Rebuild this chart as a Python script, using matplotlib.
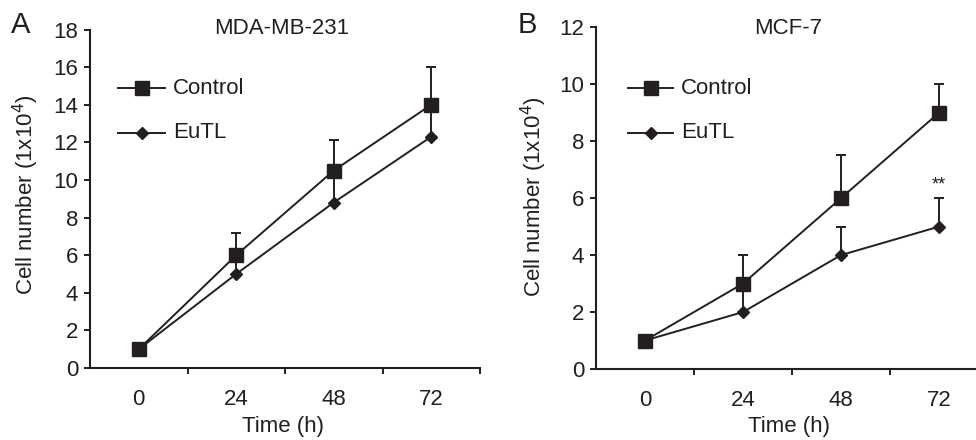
import matplotlib
matplotlib.use("Agg")
import matplotlib.pyplot as plt
import numpy as np

plt.rcParams['font.family'] = ['Liberation Sans', 'DejaVu Sans']

time_labels = ['0', '24', '48', '72']

# Panel A: MDA-MB-231
a_control = [1, 6, 10.5, 14]
a_control_err = [0, 1.2, 1.6, 2.0]
a_eutl = [1, 5, 8.8, 12.3]
a_eutl_err = [0, 1.0, 1.6, 1.6]

# Panel B: MCF-7
b_control = [1, 3, 6, 9]
b_control_err = [0, 1.0, 1.5, 1.0]
b_eutl = [1, 2, 4, 5]
b_eutl_err = [0, 1.0, 1.0, 1.0]

W, H = 976, 440
fig = plt.figure(figsize=(W / 100, H / 100), dpi=100)

col = '#231f20'
FS = 16
LW = 1.4

def make_panel(rect, ctrl, ctrl_err, eu, eu_err, ymax):
    ax = fig.add_axes(rect)
    x = np.arange(len(time_labels))
    ax.errorbar(x, eu, yerr=[np.zeros(len(eu)), eu_err], color=col, lw=LW,
                marker='D', markersize=6.4, capsize=3.6, capthick=LW, elinewidth=LW,
                label='EuTL', zorder=3)
    ax.errorbar(x, ctrl, yerr=[np.zeros(len(ctrl)), ctrl_err], color=col, lw=LW,
                marker='s', markersize=10.5, capsize=3.6, capthick=LW, elinewidth=LW,
                label='Control', zorder=4)
    ax.set_xlim(-0.5, 3.5)
    ax.set_ylim(0, ymax)
    ax.set_yticks(np.arange(0, ymax + 1, 2))
    ax.set_xticks(x)
    ax.set_xticklabels(time_labels)
    ax.set_xticks(np.arange(0.5, 3.6, 1.0), minor=True)
    ax.tick_params(axis='x', which='major', length=0, pad=15, labelsize=FS, colors=col)
    ax.tick_params(axis='x', which='minor', length=4.5, width=1.4, direction='out', color=col)
    ax.tick_params(axis='y', length=4.5, width=1.4, direction='out', labelsize=FS, pad=4, colors=col)
    for s in ['top', 'right']:
        ax.spines[s].set_visible(False)
    for s in ['left', 'bottom']:
        ax.spines[s].set_linewidth(1.5)
        ax.spines[s].set_color(col)
    return ax

axA = make_panel([90 / W, 1 - 368 / H, 390 / W, 338.5 / H], a_control, a_control_err,
                 a_eutl, a_eutl_err, 18)
axB = make_panel([596 / W, 1 - 369 / H, 392 / W, 341.7 / H], b_control, b_control_err,
                 b_eutl, b_eutl_err, 12)

# y labels
fig.text(26 / W, 1 - 195 / H, 'Cell number (1x10$^4$)', ha='center', va='center',
         rotation=90, fontsize=FS, color=col)
fig.text(534 / W, 1 - 197 / H, 'Cell number (1x10$^4$)', ha='center', va='center',
         rotation=90, fontsize=FS, color=col)

# x labels
fig.text(283 / W, 1 - 426 / H, 'Time (h)', ha='center', va='center', fontsize=FS, color=col)
fig.text(789 / W, 1 - 426 / H, 'Time (h)', ha='center', va='center', fontsize=FS, color=col)

# titles and panel letters
fig.text(282 / W, 1 - 28 / H, 'MDA-MB-231', ha='center', va='center', fontsize=FS, color=col)
fig.text(788 / W, 1 - 28 / H, 'MCF-7', ha='center', va='center', fontsize=FS, color=col)
fig.text(21 / W, 1 - 25 / H, 'A', ha='center', va='center', fontsize=21, color=col)
fig.text(527 / W, 1 - 25 / H, 'B', ha='center', va='center', fontsize=21, color=col)

# significance
axB.annotate('**', xy=(3, b_eutl[3] + b_eutl_err[3]), xytext=(0, 3), textcoords='offset points',
             ha='center', va='bottom', fontsize=13, color=col)

# legends (manual, in figure pixels)
def legend(x0, x1, ys):
    for (y, m, ms, lab) in [(ys[0], 's', 10.5, 'Control'), (ys[1], 'D', 6.4, 'EuTL')]:
        ln = plt.Line2D([x0 / W, (x0 + x1) / 2 / W, x1 / W], [1 - y / H] * 3, color=col, lw=LW,
                        marker=m, markersize=ms, markevery=[1], transform=fig.transFigure)
        fig.lines.append(ln)
        fig.text((x1 + 8) / W, 1 - y / H, lab, ha='left', va='center', fontsize=FS, color=col)

legend(118, 165, (88, 133))
legend(628, 673, (88, 133))

fig.savefig('out.png', dpi=100)
